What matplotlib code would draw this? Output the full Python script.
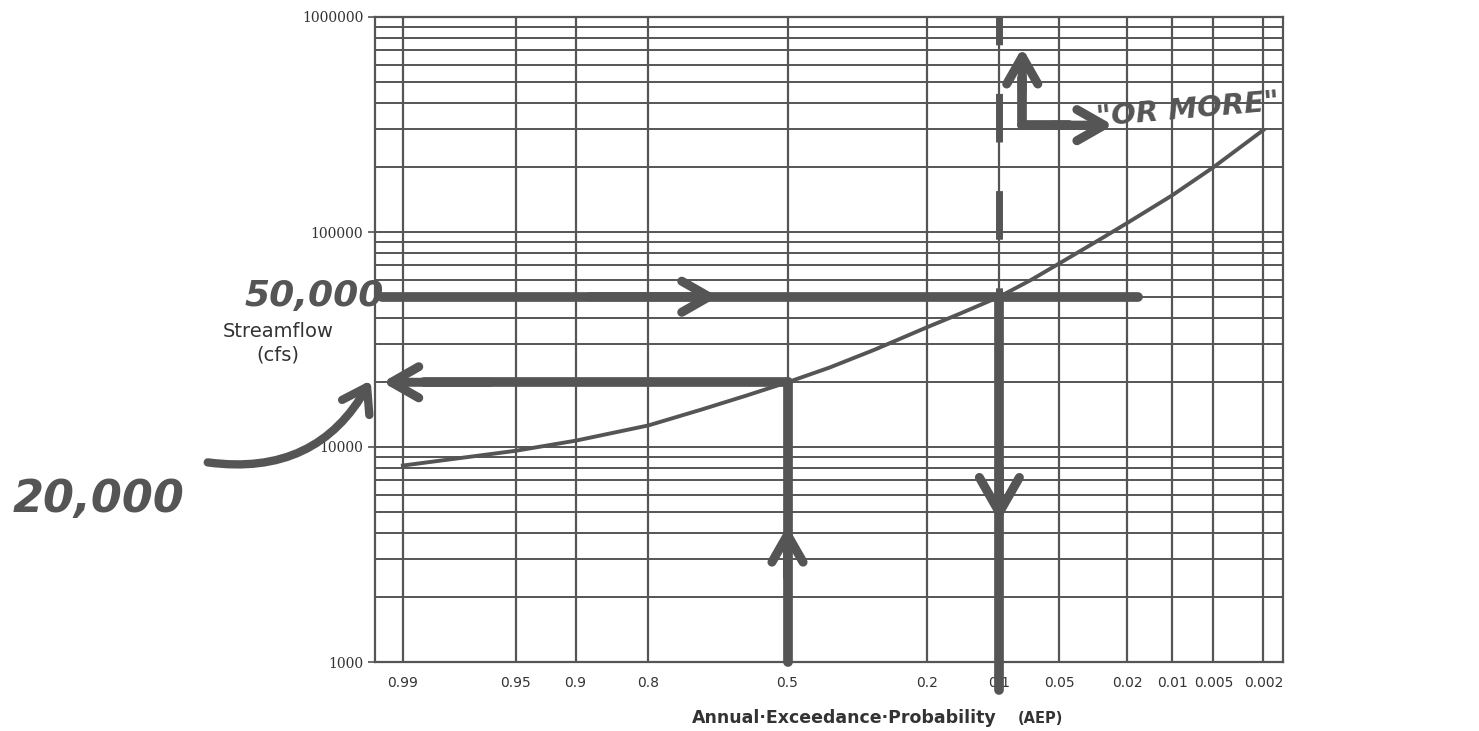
import numpy as np
import matplotlib
matplotlib.use('Agg')
from matplotlib import pyplot as plt
from matplotlib.patches import FancyArrowPatch
from statistics import NormalDist

# probability ticks on the x axis (annual exceedance probability)
aep_ticks = [0.99, 0.95, 0.9, 0.8, 0.5, 0.2, 0.1, 0.05, 0.02, 0.01, 0.005, 0.002]
aep_labels = ['0.99', '0.95', '0.9', '0.8', '0.5', '0.2', '0.1', '0.05', '0.02', '0.01', '0.005', '0.002']

# frequency curve
curve_aep = [0.99, 0.95, 0.9, 0.8, 0.7, 0.6, 0.5, 0.4, 0.3, 0.2, 0.15, 0.1,
             0.07, 0.05, 0.03, 0.02, 0.01, 0.005, 0.002]
curve_cfs = [8200, 9600, 10700, 12600, 14900, 17300, 20000, 23400, 28300, 36000, 41500, 50000,
             60000, 71500, 91500, 110000, 148000, 200000, 298000]

y_ticks = [1000, 10000, 100000, 1000000]

# hand-drawn annotation values
flow_50k = 50000
flow_20k = 20000
p_ten = 0.1
p_half = 0.5

ink = '#555555'


def z(p):
    # exceedance prob -> normal deviate (probability paper)
    if np.ndim(p) == 0:
        return NormalDist().inv_cdf(1 - p)
    return np.array([NormalDist().inv_cdf(1 - q) for q in p])


fig = plt.figure(figsize=(14.79, 7.31), dpi=100)
ax = fig.add_axes([375 / 1479, 69 / 731, 908 / 1479, 645 / 731])

ax.set_yscale('log')
ax.set_xlim(-2.495, 2.997)
ax.set_ylim(1000, 1000000)

# grid: every tick probability, every 1..9 on log y
ax.set_xticks(z(aep_ticks))
ax.set_xticklabels(aep_labels, fontsize=10, color='#333333')
ax.set_yticks(y_ticks)
ax.set_yticklabels([str(v) for v in y_ticks], fontsize=10, family='DejaVu Serif', color='#333333')
ax.yaxis.set_minor_formatter(matplotlib.ticker.NullFormatter())
ax.tick_params(axis='x', length=0, pad=10)
ax.tick_params(axis='y', which='major', length=5, color=ink, width=1.2)
ax.tick_params(axis='y', which='minor', length=0)
ax.grid(True, which='both', axis='y', color=ink, lw=1.4)
ax.grid(True, which='major', axis='x', color=ink, lw=1.6)
for s in ax.spines.values():
    s.set_color(ink)
    s.set_linewidth(1.6)

ax.plot(z(curve_aep), curve_cfs, color=ink, lw=2.8, zorder=4)

hand = dict(color=ink, lw=7, solid_capstyle='round', clip_on=False, zorder=5)


def arrow(x0, y0, x1, y1, size=14):
    a = FancyArrowPatch((x0, y0), (x1, y1), arrowstyle='->,head_length=1.4,head_width=0.8',
                        color=ink, lw=6.5, clip_on=False, zorder=6, mutation_scale=size,
                        shrinkA=0, shrinkB=0, capstyle='round', joinstyle='round')
    ax.add_patch(a)

# 50,000 line going right, chevron mid-way
ax.plot([-2.45, 2.12], [flow_50k, flow_50k], **hand)
arrow(-1.2, flow_50k, -0.42, flow_50k)

# 20,000 line going left back to the axis
ax.plot([z(p_half), -2.2], [flow_20k, flow_20k], **hand)
arrow(-1.8, flow_20k, -2.45, flow_20k)

# vertical at 0.5 going up
ax.plot([z(p_half), z(p_half)], [1000, flow_20k], **hand)
arrow(z(p_half), 2500, z(p_half), 4300)

# vertical at 0.1: dashed above, solid going down
ax.plot([z(p_ten), z(p_ten)], [1000000, flow_50k], color=ink, lw=5, ls=(3, (7, 7)),
        clip_on=False, zorder=5)
ax.plot([z(p_ten), z(p_ten)], [flow_50k, 740], **hand)
arrow(z(p_ten), 8000, z(p_ten), 4500, size=18)

# "or more" corner arrow
ax.plot([1.42, 1.42], [314000, 520000], **hand)
arrow(1.42, 450000, 1.42, 720000)
ax.plot([1.42, 1.70], [314000, 314000], **hand)
arrow(1.60, 314000, 1.97, 314000)

# curved arrow pointing at the 20,000 reading
curl = FancyArrowPatch((205 / 1479, 1 - 462 / 731), (372 / 1479, 1 - 378 / 731),
                       transform=fig.transFigure, connectionstyle='arc3,rad=0.35',
                       arrowstyle='->,head_length=1.2,head_width=0.8', mutation_scale=14,
                       color=ink, lw=6, zorder=6)
fig.patches.append(curl)

fig.text(314 / 1479, 1 - 296 / 731, '50,000', fontsize=26, fontweight='bold', color=ink,
         ha='center', va='center', style='italic')
fig.text(99 / 1479, 1 - 500 / 731, '20,000', fontsize=32, fontweight='bold', color=ink,
         ha='center', va='center', style='italic')
fig.text(1188 / 1479, 1 - 110 / 731, '"OR MORE"', fontsize=21, fontweight='bold', color=ink,
         ha='center', va='center', style='italic', rotation=5)

fig.text(278 / 1479, 1 - 343 / 731, 'Streamflow\n(cfs)', fontsize=14, color='#333333',
         ha='center', va='center', linespacing=1.3)
fig.text(997 / 1479, 1 - 723 / 731, 'Annual\u00b7Exceedance\u00b7Probability', fontsize=12.5,
         fontweight='bold', color='#333333', ha='right', va='baseline')
fig.text(1018 / 1479, 1 - 723 / 731, '(AEP)', fontsize=10.5, fontweight='bold', color='#333333',
         ha='left', va='baseline')

fig.savefig('out.png', dpi=100, facecolor='white')
